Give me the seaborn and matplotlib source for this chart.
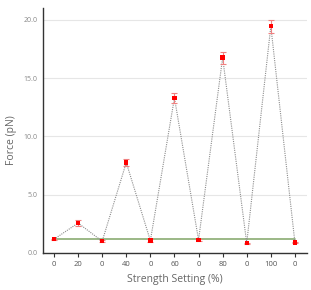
import numpy as np
import pandas as pd
import matplotlib
matplotlib.use("Agg")
import matplotlib.pyplot as plt
import seaborn as sns

# Data
settings = ["0", "20", "0", "40", "0", "60", "0", "80", "0", "100", "0"]
force = [1.17, 2.56, 1.0, 7.75, 1.05, 13.3, 1.11, 16.75, 0.83, 19.45, 0.88]
force_err = [0.05, 0.25, 0.08, 0.32, 0.1, 0.45, 0.05, 0.52, 0.05, 0.55, 0.05]
baseline = 1.2

df = pd.DataFrame({"pos": np.arange(len(settings)), "force": force, "err": force_err})

sns.set_style("white")
plt.rcParams["font.family"] = ["Open Sans", "DejaVu Sans"]

fig = plt.figure(figsize=(3.11, 2.90), dpi=100)
ax = fig.add_axes([0.138, 0.128, 0.849, 0.844])

# baseline
ax.plot([df["pos"].iloc[0], df["pos"].iloc[-1]], [baseline, baseline],
        color="#8aac72", lw=1.2, zorder=1)

# dotted connecting line
sns.lineplot(data=df, x="pos", y="force", ax=ax, color="#8c8c8c",
             lw=0.8, linestyle=(0, (1, 1)), zorder=2)

ax.errorbar(df["pos"], df["force"], yerr=df["err"], fmt="none",
            ecolor="#f08080", elinewidth=0.8, capsize=2, capthick=0.8, zorder=3)
sns.scatterplot(data=df, x="pos", y="force", ax=ax, color="#ff0000",
                marker="s", s=10, edgecolor="none", zorder=4)

ax.set_xlim(-0.46, 10.5)
ax.set_ylim(0, 21)
ax.set_yticks([0, 5, 10, 15, 20])
ax.set_yticklabels(["0.0", "5.0", "10.0", "15.0", "20.0"])
ax.set_xticks(df["pos"])
ax.set_xticklabels(settings)
ax.yaxis.grid(True, color="#e6e6e6", lw=0.8)
ax.set_axisbelow(True)

for s in ["top", "right"]:
    ax.spines[s].set_visible(False)
for s in ["left", "bottom"]:
    ax.spines[s].set_color("#333333")
    ax.spines[s].set_linewidth(1.0)

ax.tick_params(axis="y", labelsize=5, colors="#888888", length=0, pad=4)
ax.tick_params(axis="x", labelsize=5.5, labelcolor="#555555", color="#333333",
               length=3, width=0.8, direction="out", bottom=True, pad=3)
ax.set_xlabel("Strength Setting (%)", fontsize=7.5, color="#666666", labelpad=4)
ax.set_ylabel("Force (pN)", fontsize=7.5, color="#666666")
ax.yaxis.set_label_coords(-0.1, 0.46)

fig.savefig("out.png", dpi=100)
